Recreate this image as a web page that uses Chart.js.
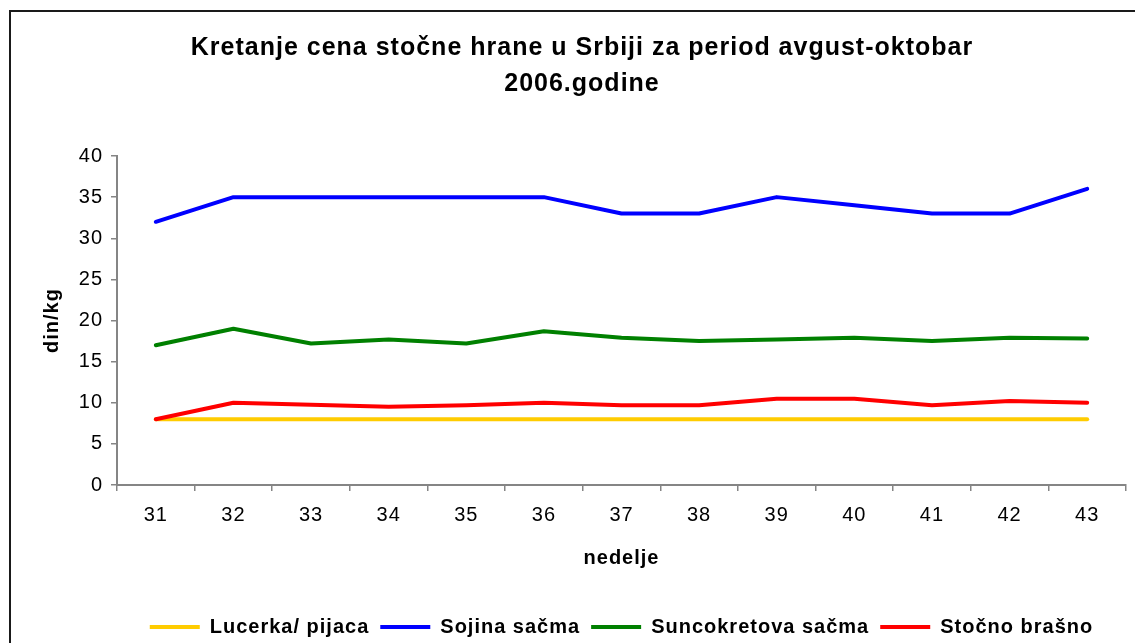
<!DOCTYPE html>
<html>
<head>
<meta charset="utf-8">
<script src="https://cdn.jsdelivr.net/npm/chart.js@4/dist/chart.umd.min.js"></script>
<style>
  html, body { margin: 0; padding: 0; background: #ffffff; }
  #wrap { width: 1135px; height: 643px; position: relative; }
</style>
</head>
<body>
<div id="wrap"><canvas id="c" width="1135" height="643"></canvas></div>
<script>
// ---- data ----
const weeks = ['31','32','33','34','35','36','37','38','39','40','41','42','43'];
const lucerka = [8, 8, 8, 8, 8, 8, 8, 8, 8, 8, 8, 8, 8];
const sojina = [32, 35, 35, 35, 35, 35, 33, 33, 35, 34, 33, 33, 36];
const suncokret = [17, 19, 17.2, 17.7, 17.2, 18.7, 17.9, 17.5, 17.7, 17.9, 17.5, 17.9, 17.8];
const stocno = [8, 10, 9.75, 9.5, 9.7, 10, 9.7, 9.7, 10.5, 10.5, 9.7, 10.2, 10];
const seriesNames = ['Lucerka/ pijaca', 'Sojina sačma', 'Suncokretova sačma', 'Stočno brašno'];
const yTicks = [0, 5, 10, 15, 20, 25, 30, 35, 40];
const titleLines = ['Kretanje cena stočne hrane u Srbiji za period avgust-oktobar', '2006.godine'];

const FONT = '"Liberation Sans", Arial, Helvetica, sans-serif';
const LS = '1px';
const AXIS = '#858585';

const spacing = {
  id: 'spacing',
  beforeUpdate(chart) { chart.ctx.letterSpacing = LS; },
  beforeLayout(chart) { chart.ctx.letterSpacing = LS; },
  beforeDraw(chart) {
    const ctx = chart.ctx;
    ctx.letterSpacing = LS;
    ctx.save();
    ctx.strokeStyle = '#1a1a1a';
    ctx.lineWidth = 2;
    ctx.beginPath();
    ctx.moveTo(10, 700);
    ctx.lineTo(10, 11);
    ctx.lineTo(1200, 11);
    ctx.stroke();
    ctx.restore();
  }
};

const chart = new Chart(document.getElementById('c'), {
  type: 'line',
  data: {
    labels: weeks,
    datasets: [
      { label: seriesNames[0], data: lucerka, borderColor: '#FFCC00', backgroundColor: '#FFCC00', order: 3 },
      { label: seriesNames[1], data: sojina, borderColor: '#0000FF', backgroundColor: '#0000FF', order: 2 },
      { label: seriesNames[2], data: suncokret, borderColor: '#008000', backgroundColor: '#008000', order: 1 },
      { label: seriesNames[3], data: stocno, borderColor: '#FF0000', backgroundColor: '#FF0000', order: 0 }
    ]
  },
  options: {
    responsive: false,
    devicePixelRatio: 1,
    animation: false,
    events: [],
    layout: { padding: { left: 38, right: 9, top: 0, bottom: -4 } },
    elements: {
      line: { borderWidth: 4, tension: 0, borderCapStyle: 'round', borderJoinStyle: 'round', fill: false },
      point: { radius: 0, hoverRadius: 0 }
    },
    scales: {
      x: {
        type: 'category',
        offset: true,
        grid: { display: true, offset: true, drawOnChartArea: false, drawTicks: true, tickLength: 6, color: AXIS, lineWidth: 1.5 },
        border: { display: true, color: AXIS, width: 2 },
        ticks: { color: '#000', font: { family: FONT, size: 20 }, padding: 12, maxRotation: 0, autoSkip: false },
        title: { display: true, text: 'nedelje', color: '#000', font: { family: FONT, size: 20, weight: 'bold' }, padding: { top: 0, bottom: 36 } },
        afterFit(scale) { scale.height = 121; }
      },
      y: {
        min: 0, max: 40,
        afterBuildTicks(scale) { scale.ticks = yTicks.map(v => ({ value: v })); },
        grid: { display: true, drawOnChartArea: false, drawTicks: true, tickLength: 6, color: AXIS, lineWidth: 1.5 },
        border: { display: true, color: AXIS, width: 2 },
        ticks: { color: '#000', font: { family: FONT, size: 20 }, padding: 8 },
        title: { display: true, text: 'din/kg', color: '#000', font: { family: FONT, size: 20, weight: 'bold' }, padding: { top: 2, bottom: 0 } },
        afterFit(scale) { scale.width = 79; }
      }
    },
    plugins: {
      tooltip: { enabled: false },
      title: {
        display: true,
        text: titleLines,
        color: '#000',
        font: { family: FONT, size: 25, weight: 'bold', lineHeight: 36 / 25 },
        padding: { top: 30, bottom: 54 }
      },
      legend: {
        display: true,
        position: 'bottom',
        fullSize: false,
        labels: {
          color: '#000',
          font: { family: FONT, size: 20, weight: 'bold' },
          boxWidth: 50,
          boxHeight: 4,
          padding: 11,
          generateLabels(ch) {
            return ch.data.datasets.map((ds, i) => ({
              text: ds.label,
              fillStyle: ds.borderColor,
              strokeStyle: ds.borderColor,
              lineWidth: 0,
              fontColor: '#000',
              hidden: !ch.isDatasetVisible(i),
              datasetIndex: i
            }));
          }
        }
      }
    }
  },
  plugins: [spacing]
});
</script>
</body>
</html>
